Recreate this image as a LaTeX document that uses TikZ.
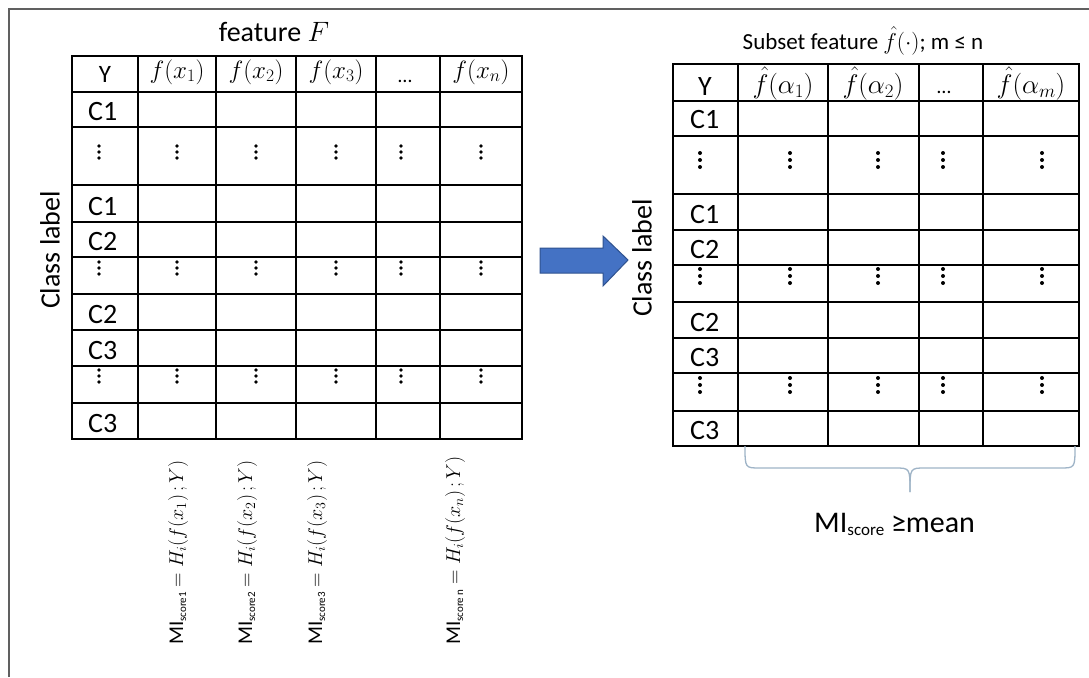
\RequirePackage{fix-cm}
\documentclass[tikz,border=0pt]{standalone}
\usepackage{fontspec}
\setmainfont{Carlito}
\definecolor{arrfill}{HTML}{4472C4}
\definecolor{arrdraw}{HTML}{2F528F}
\definecolor{brccol}{HTML}{9FB4C7}
\definecolor{frmcol}{HTML}{606060}
\newcommand{\miscore}[1]{{\fontsize{21}{22}\selectfont MI}\raisebox{-3pt}{\fontsize{11}{11}\selectfont #1}}
\begin{document}
\begin{tikzpicture}[x=1pt,y=-1pt,
  tbl/.style={line width=1.5pt,black},
  frm/.style={line width=2pt,frmcol},
  txt/.style={inner sep=0pt,font=\fontsize{28}{30}\selectfont},
  hdr/.style={inner sep=0pt,font=\fontsize{25}{27}\selectfont},
  hdrr/.style={inner sep=0pt,font=\fontsize{27}{29}\selectfont},
  mi/.style={inner sep=0pt,rotate=90,anchor=base west,font=\fontsize{20}{21}\selectfont},
  dotc/.style={fill=black},
  brc/.style={line width=1.3pt,color=brccol},
  arr/.style={fill=arrfill,draw=arrdraw,line width=1pt}]
\useasboundingbox (0,0) rectangle (1089,677);
\fill[white] (0,0) rectangle (1089,677);
% frame
\draw[frm] (9,677) -- (9,9) -- (1089,9);
% ---------------- left table
\draw[tbl] (72,56) rectangle (522,439);
\foreach \x in {138,216,296,376,440} \draw[tbl] (\x,56) -- (\x,439);
\foreach \y in {92,127,185,222,257,294,330,366,403} \draw[tbl] (72,\y) -- (522,\y);
\node[txt,anchor=base] (ttlL) at (274,42) {feature $F$};
\node[hdr,anchor=base] (lY) at (105,82) {Y};
\node[hdr,anchor=base] (lf1) at (177,78) {$f(x_1)$};
\node[hdr,anchor=base] (lf2) at (256,78) {$f(x_2)$};
\node[hdr,anchor=base] (lf3) at (336,78) {$f(x_3)$};
\node[hdr,anchor=base] (lfd) at (405,82) {\fontsize{20}{22}\selectfont …};
\node[hdr,anchor=base] (lfn) at (481,78) {$f(x_n)$};
\node[txt,anchor=base west] (lc1a) at (88,120) {C1};
\node[txt,anchor=base west] (lc1b) at (88,215) {C1};
\node[txt,anchor=base west] (lc2a) at (88,250) {C2};
\node[txt,anchor=base west] (lc2b) at (88,323) {C2};
\node[txt,anchor=base west] (lc3a) at (88,359) {C3};
\node[txt,anchor=base west] (lc3b) at (88,432) {C3};
\foreach \y in {146,262,370}
  \foreach \x in {99,177,256,336,401,481}
    \foreach \d in {0,6,12} \fill[dotc] (\x,\y+\d) circle (1.8);
\node[txt,rotate=90] (clsL) at (50,250) {Class label};
% MI labels
\node[mi] (mi1) at (183,645) {\miscore{score1} $= H_i(f(x_1)\,; Y)$};
\node[mi] (mi2) at (252,645) {\miscore{score2} $= H_i(f(x_2)\,; Y)$};
\node[mi] (mi3) at (322,645) {\miscore{score3} $= H_i(f(x_3)\,; Y)$};
\node[mi] (mi4) at (460,645) {\miscore{score n} $= H_i(f(x_n)\,; Y)$};
% ---------------- arrow
\draw[arr] (540,248) -- (603,248) -- (603,236) -- (628,260) -- (603,286) -- (603,273) -- (540,273) -- cycle;
% ---------------- right table
\draw[tbl] (673,64) rectangle (1079,446);
\foreach \x in {738,828,919,983} \draw[tbl] (\x,64) -- (\x,446);
\foreach \y in {101,136,194,230,265,302,338,373,411} \draw[tbl] (673,\y) -- (1079,\y);
\node[hdrr,anchor=base] (ttlR) at (863,49) {\fontsize{23}{26}\selectfont Subset feature $\hat{f}(\cdot)$; m ≤ n};
\node[txt,anchor=base] (rY) at (705,95) {Y};
\node[hdrr,anchor=base] (rf1) at (783,93) {$\hat{f}(\alpha_1)$};
\node[hdrr,anchor=base] (rf2) at (873,93) {$\hat{f}(\alpha_2)$};
\node[hdr,anchor=base] (rfd) at (944,93) {\fontsize{20}{22}\selectfont …};
\node[hdrr,anchor=base] (rfm) at (1031,93) {$\hat{f}(\alpha_m)$};
\node[txt,anchor=base west] (rc1a) at (690,128) {C1};
\node[txt,anchor=base west] (rc1b) at (690,223) {C1};
\node[txt,anchor=base west] (rc2a) at (690,258) {C2};
\node[txt,anchor=base west] (rc2b) at (690,331) {C2};
\node[txt,anchor=base west] (rc3a) at (690,366) {C3};
\node[txt,anchor=base west] (rc3b) at (690,439) {C3};
\foreach \y in {153,269,378}
  \foreach \x in {700,790,878,943,1042}
    \foreach \d in {0,7,14} \fill[dotc] (\x,\y+\d) circle (2);
\node[txt,rotate=90] (clsR) at (642,258) {Class label};
% brace
\coordinate (bl) at (745,446);
\coordinate (br) at (1075,446);
\coordinate (bt) at (910,492);
\draw[brc] (bl) .. controls (745,468) .. (760,468) -- (895,468) .. controls (910,468) .. (bt);
\draw[brc] (br) .. controls (1075,468) .. (1060,468) -- (925,468) .. controls (910,468) .. (bt);
\node[inner sep=0pt,anchor=base west,font=\fontsize{30}{32}\selectfont] (misc) at (814,532) {MI\raisebox{-3pt}{\fontsize{17}{17}\selectfont score} ≥mean};
\end{tikzpicture}
\end{document}
